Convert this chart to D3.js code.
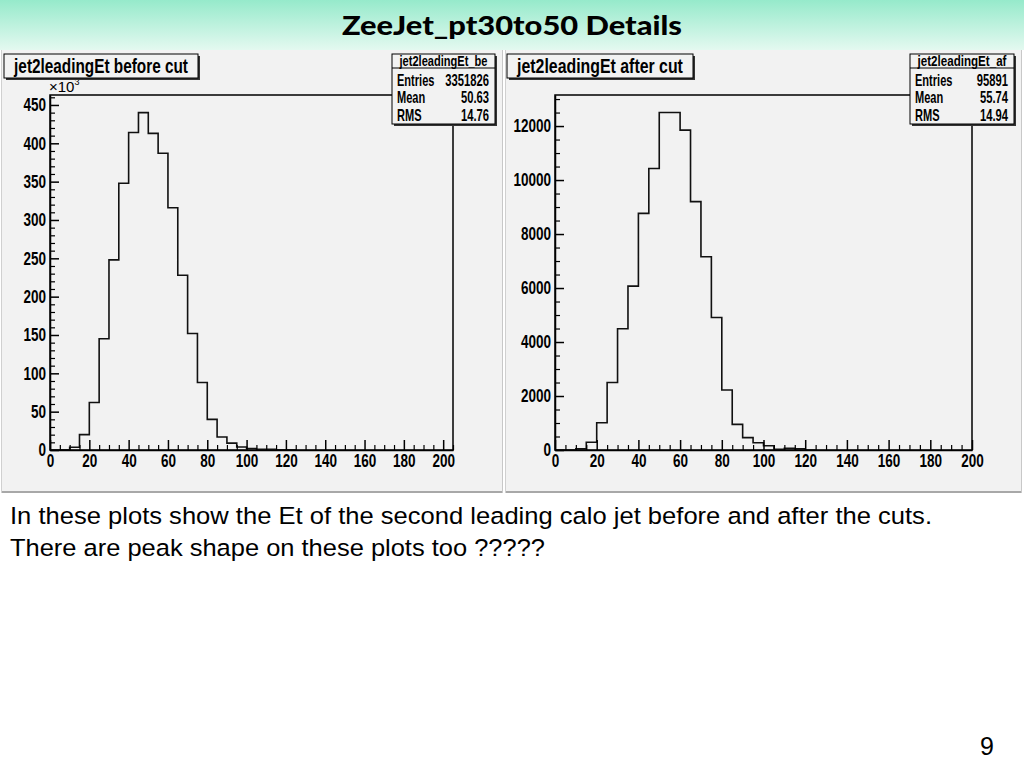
<!DOCTYPE html>
<html>
<head>
<meta charset="utf-8">
<script src="https://cdn.jsdelivr.net/npm/d3@7"></script>
<style>
  html, body { margin: 0; padding: 0; background: #ffffff; }
  svg { display: block; }
  .root { font-family: "Liberation Sans", Arial, sans-serif; font-weight: bold; }
</style>
</head>
<body>
<svg id="chart" width="1024" height="768"></svg>
<script>
// ---------------- DATA ----------------
const pageTitle = "ZeeJet_pt30to50 Details";
const bodyLines = [
  "In these plots show the Et of the second leading calo jet before and after the cuts.",
  "There are peak shape on these plots too ?????"
];
const bodyLineWidths = [922, 535];
const pageNumber = "9";

// histogram bin low edges (bin width 5 GeV)
const binLowEdges = [0,5,10,15,20,25,30,35,40,45,50,55,60,65,70,75,80,85,90,95,100,105,110,115,120];
const binWidth = 5;

// before cut (in units of 10^3 entries)
const beforeCounts = [0,0.3,3.5,20,62,145,248,348,414,440,413,387,316,228,152,88,40,17,9,4,2,1,0.8,0.4,0.2];
// after cut
const afterCounts = [0,0,40,285,1010,2500,4490,6070,8765,10430,12500,12500,11850,9200,7160,4910,2220,950,460,270,160,25,60,40,0];

const xTickValues = [0,20,40,60,80,100,120,140,160,180,200];
const beforeYTicks = [0,50,100,150,200,250,300,350,400,450];
const afterYTicks = [0,2000,4000,6000,8000,10000,12000];

const beforeStats = { name: "jet2leadingEt_be", entries: "3351826", mean: "50.63", rms: "14.76" };
const afterStats  = { name: "jet2leadingEt_af", entries: "95891",   mean: "55.74", rms: "14.94" };
const beforeTitle = "jet2leadingEt before cut";
const afterTitle  = "jet2leadingEt after cut";

// ---------------- DRAW ----------------
const svg = d3.select("#chart");
const defs = svg.append("defs");
const grad = defs.append("linearGradient").attr("id", "banner").attr("x1", 0).attr("y1", 0).attr("x2", 0).attr("y2", 1);
grad.append("stop").attr("offset", "0%").attr("stop-color", "#96eacb");
grad.append("stop").attr("offset", "100%").attr("stop-color", "#e4f9f0");

svg.append("rect").attr("x", 0).attr("y", 0).attr("width", 1024).attr("height", 50).attr("fill", "url(#banner)");
svg.append("text").attr("x", 512).attr("y", 35).attr("text-anchor", "middle")
  .attr("font-family", "Lato, 'Open Sans', sans-serif").attr("font-weight", 900).attr("font-size", 27)
  .attr("fill", "#000").attr("textLength", 340).attr("lengthAdjust", "spacingAndGlyphs")
  .text(pageTitle);

// horizontally condense text (ROOT uses a narrow Helvetica)
function narrow(sel, f) {
  sel.each(function () {
    const L = this.getComputedTextLength();
    d3.select(this).attr("textLength", L * f).attr("lengthAdjust", "spacingAndGlyphs");
  });
}
// condense a free-standing text by a horizontal scale transform about its anchor
function squeeze(t, f, widthTarget) {
  const node = t.node();
  const L = node.getComputedTextLength();
  const k = widthTarget ? widthTarget / L : f;
  const x = +t.attr("x"), y = +t.attr("y");
  t.attr("x", 0).attr("y", 0).attr("transform", `translate(${x},${y}) scale(${k},1)`);
}

function drawPanel(cfg) {
  const g = svg.append("g").attr("class", "root");
  // canvas
  g.append("rect").attr("x", cfg.cx).attr("y", 50).attr("width", cfg.cw).attr("height", 443).attr("fill", "#f2f2f2");
  g.append("line").attr("x1", cfg.cx).attr("x2", cfg.cx + cfg.cw).attr("y1", 492).attr("y2", 492).attr("stroke", "#a8a8a8").attr("stroke-width", 2);
  g.append("line").attr("x1", cfg.cx + 0.5).attr("x2", cfg.cx + 0.5).attr("y1", 50).attr("y2", 493).attr("stroke", "#d0d0d0");
  g.append("line").attr("x1", cfg.cx + cfg.cw - 0.5).attr("x2", cfg.cx + cfg.cw - 0.5).attr("y1", 50).attr("y2", 493).attr("stroke", "#c8c8c8");

  const x = d3.scaleLinear().domain(cfg.xDomain).range([cfg.fx0, cfg.fx1]);
  const y = d3.scaleLinear().domain(cfg.yDomain).range([450, 95]);

  // frame
  g.append("rect").attr("x", cfg.fx0).attr("y", 95).attr("width", cfg.fx1 - cfg.fx0).attr("height", 355)
    .attr("fill", "none").attr("stroke", "#000").attr("stroke-width", 1.5);

  // histogram
  const pts = [];
  cfg.counts.forEach((v, i) => { pts.push([binLowEdges[i], v]); pts.push([binLowEdges[i] + binWidth, v]); });
  pts.unshift([binLowEdges[0], 0]);
  pts.push([binLowEdges[binLowEdges.length - 1] + binWidth, 0]);
  const line = d3.line().x(d => x(d[0])).y(d => y(d[1]));
  g.append("path").attr("d", line(pts)).attr("fill", "none").attr("stroke", "#111").attr("stroke-width", 1.6);

  // y axis minor
  const yMinor = g.append("g").attr("transform", `translate(${cfg.fx0},0)`)
    .call(d3.axisLeft(y).tickValues(cfg.yMinor).tickSize(-5).tickFormat(""));
  yMinor.select(".domain").remove();
  yMinor.selectAll("line").attr("stroke", "#000").attr("stroke-width", 1.2);
  // y axis major
  const yAx = g.append("g").attr("transform", `translate(${cfg.fx0},0)`)
    .call(d3.axisLeft(y).tickValues(cfg.yTicks).tickSizeInner(-9).tickSizeOuter(0).tickPadding(4).tickFormat(d3.format("d")));
  yAx.select(".domain").attr("stroke", "#000").attr("stroke-width", 1.5);
  yAx.selectAll("line").attr("stroke", "#000").attr("stroke-width", 1.5);
  yAx.selectAll("text").attr("font-size", 18.5).attr("fill", "#000").attr("font-family", null).attr("font-weight", "bold");
  narrow(yAx.selectAll("text"), 0.73);

  // x axis minor
  const xMinor = g.append("g").attr("transform", "translate(0,450)")
    .call(d3.axisBottom(x).tickValues(cfg.xMinor).tickSize(-5).tickFormat(""));
  xMinor.select(".domain").remove();
  xMinor.selectAll("line").attr("stroke", "#000").attr("stroke-width", 1.2);
  const xAx = g.append("g").attr("transform", "translate(0,450)")
    .call(d3.axisBottom(x).tickValues(xTickValues).tickSizeInner(-10).tickSizeOuter(0).tickPadding(4).tickFormat(d3.format("d")));
  xAx.select(".domain").attr("stroke", "#000").attr("stroke-width", 1.5);
  xAx.selectAll("line").attr("stroke", "#000").attr("stroke-width", 1.5);
  xAx.selectAll("text").attr("font-size", 18.5).attr("fill", "#000").attr("font-family", null).attr("font-weight", "bold");
  narrow(xAx.selectAll("text"), 0.73);

  if (cfg.exponent) {
    const t = g.append("text").attr("x", cfg.fx0 - 1).attr("y", 92).attr("font-size", 15).attr("font-weight", "normal").attr("fill", "#000");
    t.append("tspan").text("\u00d710");
    t.append("tspan").attr("font-size", 9).attr("dy", -7).text("3");
  }

  // title box
  const tb = cfg.titleBox;
  g.append("rect").attr("x", tb.x + 2).attr("y", 56).attr("width", tb.w).attr("height", 24).attr("fill", "#333");
  g.append("rect").attr("x", tb.x).attr("y", 54).attr("width", tb.w).attr("height", 24).attr("fill", "#f2f2f2").attr("stroke", "#000").attr("stroke-width", 1);
  const tt = g.append("text").attr("x", tb.x + tb.w / 2).attr("y", 72.5).attr("text-anchor", "middle").attr("font-size", 19.5)
    .attr("fill", "#000").text(cfg.title);
  squeeze(tt, null, tb.tw);

  // stats box
  const sb = cfg.statBox;
  g.append("rect").attr("x", sb.x + 2).attr("y", 56).attr("width", sb.w).attr("height", 70).attr("fill", "#333");
  g.append("rect").attr("x", sb.x).attr("y", 54).attr("width", sb.w).attr("height", 70).attr("fill", "#f2f2f2").attr("stroke", "#000").attr("stroke-width", 1);
  g.append("line").attr("x1", sb.x).attr("x2", sb.x + sb.w).attr("y1", 68).attr("y2", 68).attr("stroke", "#000");
  const st = g.append("text").attr("x", sb.x + sb.w / 2).attr("y", 66).attr("text-anchor", "middle").attr("font-size", 14.5)
    .attr("fill", "#000").text(cfg.stats.name);
  squeeze(st, null, sb.w - 15);
  const rows = [["Entries", cfg.stats.entries], ["Mean", cfg.stats.mean], ["RMS", cfg.stats.rms]];
  rows.forEach((r, i) => {
    const by = 85.5 + i * 17.5;
    const a = g.append("text").attr("x", sb.x + 5).attr("y", by).attr("font-size", 16.5).attr("fill", "#000").text(r[0]);
    const b = g.append("text").attr("x", sb.x + sb.w - 6).attr("y", by).attr("text-anchor", "end").attr("font-size", 16.5).attr("fill", "#000").text(r[1]);
    squeeze(a, 0.67);
    squeeze(b, 0.68);
  });
}

function minorTicks(max, step, majorStep) {
  const out = [];
  for (let v = 0; v <= max + 1e-9; v += step) if (Math.abs(v / majorStep - Math.round(v / majorStep)) > 1e-6) out.push(v);
  return out;
}

drawPanel({
  cx: 1, cw: 502, fx0: 50, fx1: 453, xDomain: [0, 205], yDomain: [0, 463],
  counts: beforeCounts, yTicks: beforeYTicks, yMinor: minorTicks(463, 10, 50), xMinor: minorTicks(205, 5, 20),
  exponent: true, title: beforeTitle, titleBox: { x: 4, w: 194, tw: 174 },
  statBox: { x: 392, w: 103 }, stats: beforeStats
});
drawPanel({
  cx: 505, cw: 517, fx0: 555, fx1: 972, xDomain: [0, 200], yDomain: [0, 13150],
  counts: afterCounts, yTicks: afterYTicks, yMinor: minorTicks(13150, 500, 2000), xMinor: minorTicks(200, 5, 20),
  exponent: false, title: afterTitle, titleBox: { x: 507, w: 186, tw: 166 },
  statBox: { x: 910, w: 104 }, stats: afterStats
});

// body text
bodyLines.forEach((t, i) => {
  svg.append("text").attr("x", 10).attr("y", 524 + i * 32)
    .attr("font-family", "'Liberation Sans', Arial, sans-serif").attr("font-size", 24.5).attr("fill", "#000")
    .attr("textLength", bodyLineWidths[i]).attr("lengthAdjust", "spacingAndGlyphs").text(t);
});
svg.append("text").attr("x", 994).attr("y", 755).attr("text-anchor", "end")
  .attr("font-family", "'Liberation Sans', Arial, sans-serif").attr("font-size", 25).attr("fill", "#000").text(pageNumber);
</script>
</body>
</html>
